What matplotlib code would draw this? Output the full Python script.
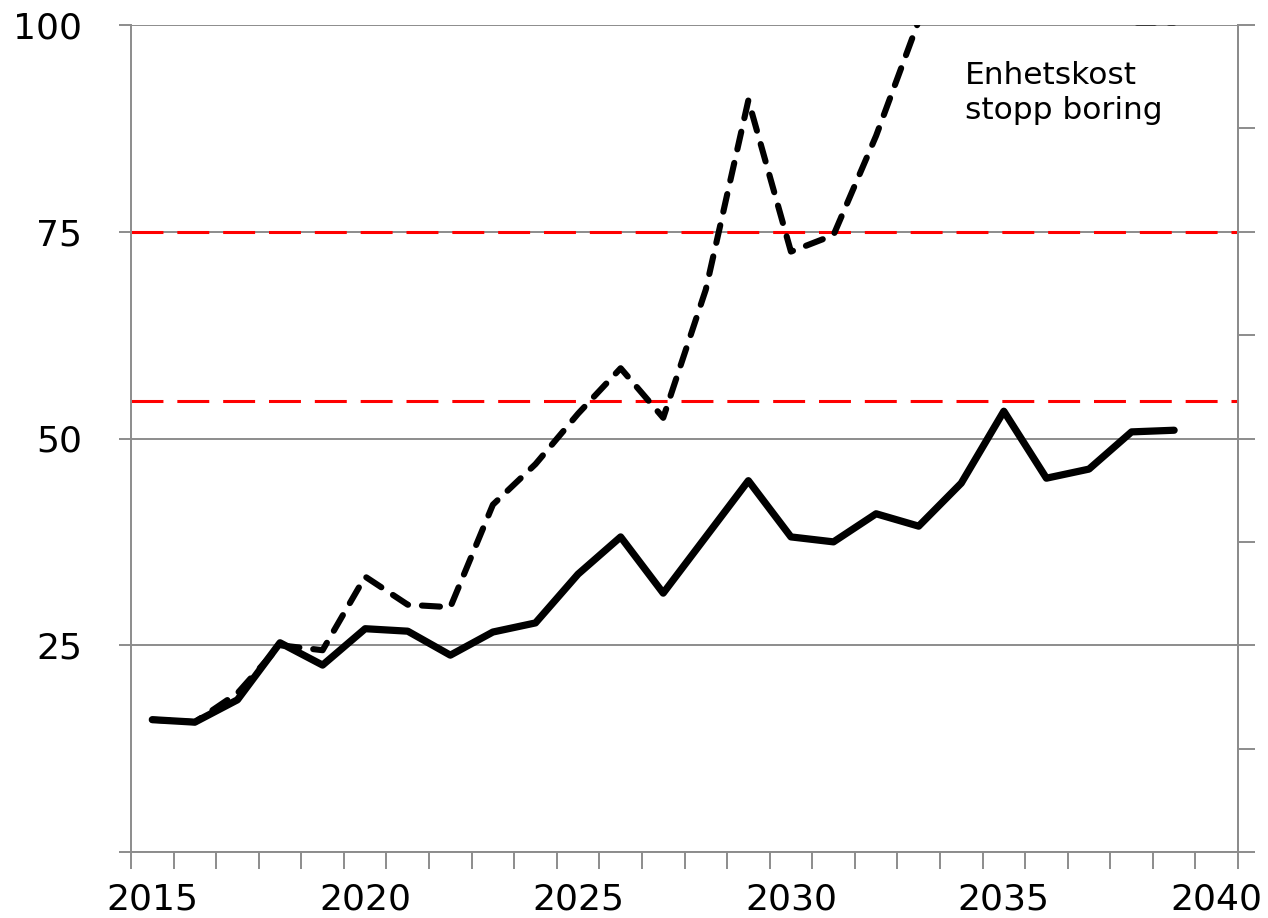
import matplotlib
matplotlib.use('Agg')
import matplotlib.pyplot as plt
import numpy as np

plt.rcParams['font.family'] = ['DejaVu Sans']
plt.rcParams['lines.scale_dashes'] = False

years = list(range(2015, 2041))
tick_labels = ['2015', '2020', '2025', '2030', '2035', '2040']

# Enhetskost (solid)
solid = [16.0, 15.7, 18.4, 25.3, 22.6, 27.0, 26.7, 23.8, 26.6, 27.7,
         33.6, 38.1, 31.3, 38.1, 44.9, 38.1, 37.5, 40.9, 39.4, 44.6,
         53.3, 45.2, 46.3, 50.8, 51.0]
# Enhetskost stopp boring (dashed, goes above 100)
dashed = [16.0, 15.7, 19.2, 25.0, 24.4, 33.3, 29.9, 29.6, 42.0, 46.9,
          53.0, 58.5, 52.5, 68.0, 90.9, 72.6, 74.6, 86.6, 100.5, 115.0,
          125.0, 120.0, 110.0, 100.3, 100.3]
red_levels = [54.5, 75]

grey = '#8c8c8c'

fig = plt.figure(figsize=(12.68, 9.18), dpi=100)
ax = fig.add_axes([131/1268, 1-852/918, (1238-131)/1268, (852-25)/918])

x = np.arange(len(solid))
ax.plot(x, dashed, color='black', lw=4.4, dashes=(13, 10),
        dash_capstyle='round', solid_joinstyle='round', zorder=3)
ax.plot(x, solid, color='black', lw=5.2, solid_capstyle='round',
        solid_joinstyle='round', zorder=4)
for lv in red_levels:
    ax.axhline(lv, color='#ff0000', lw=2.2, dashes=(23, 10), zorder=2)

ax.set_xlim(-0.5, len(years) - 0.5)
ax.set_ylim(0, 100)

# y axis
ax.set_yticks([0, 25, 50, 75, 100])
ax.set_yticklabels(['', '25', '50', '75', '100'])
ax.yaxis.grid(True, color=grey, lw=1.4)
ax.set_axisbelow(True)
ax.tick_params(axis='y', direction='out', length=9, width=1.4, color=grey,
               labelsize=26, pad=26)

# x axis: labels at category centres, ticks at boundaries
ax.set_xticks([years.index(int(t)) for t in tick_labels])
ax.set_xticklabels(tick_labels)
ax.set_xticks(np.arange(-0.5, len(years)), minor=True)
ax.tick_params(axis='x', which='major', length=0, labelsize=26, pad=22)
ax.tick_params(axis='x', which='minor', direction='out', length=12,
               width=1.4, color=grey)

for s in ['left', 'bottom', 'right']:
    ax.spines[s].set_color(grey)
    ax.spines[s].set_linewidth(1.4)
ax.spines['top'].set_visible(False)

# right axis ticks
ax2 = ax.twinx()
ax2.set_ylim(0, 100)
ax2.set_yticks(np.arange(0, 100.1, 12.5))
ax2.set_yticklabels([])
ax2.tick_params(axis='y', direction='out', length=12, width=1.4, color=grey)
for s in ['left', 'bottom', 'top']:
    ax2.spines[s].set_visible(False)
ax2.spines['right'].set_color(grey)
ax2.spines['right'].set_linewidth(1.4)

ax.text(0.753, 0.957, 'Enhetskost\nstopp boring', transform=ax.transAxes,
        fontsize=22.5, va='top', ha='left', linespacing=1.3)

fig.savefig('out.png', dpi=100)
